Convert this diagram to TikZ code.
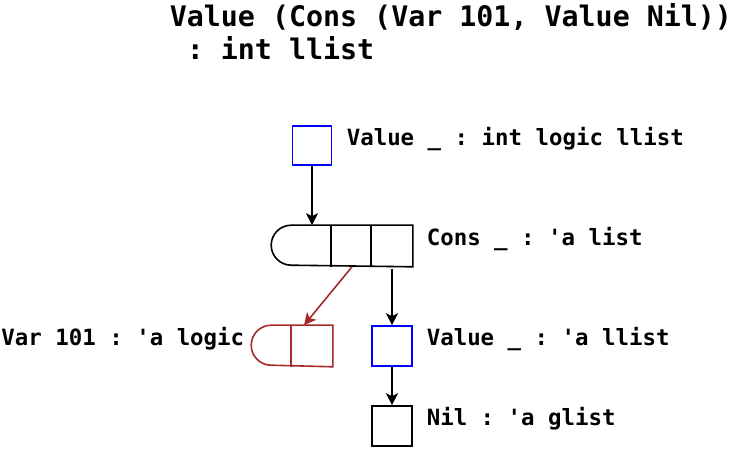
\documentclass[tikz,border=0pt]{standalone}
\usepackage{fontspec}
\setmonofont{DejaVu Sans Mono}
\usetikzlibrary{arrows.meta}
\definecolor{varred}{HTML}{A52A2A}
\begin{document}
\begin{tikzpicture}[x=1pt,y=-1pt,
  line width=1.6pt,
  cell/.style={rectangle,inner sep=0pt,minimum size=40pt,draw=none},
  box/.style={cell,draw},
  lbl/.style={inner sep=0pt,font=\ttfamily\bfseries\fontsize{22.4}{27}\selectfont},
  link/.style={-{Stealth[length=12pt,width=12pt,inset=3pt]}},
]
\useasboundingbox (0,0) rectangle (748,449);

% title (anchored on the baseline of its last line)
\node[inner sep=0pt,anchor=base west,align=left,
      font=\ttfamily\bfseries\fontsize{28.3}{33.5}\selectfont] (title) at (169,60)
  {Value (Cons (Var 101, Value Nil))\\\phantom{:}: int llist};

% top-level value cell
\node[box,draw=blue,minimum size=39pt] (top) at (312,145.5) {};
\node[lbl,anchor=base west] (toplbl) at (346,146) {Value \_ : int logic llist};

% cons block: three cells, rounded head on the left
\node[cell] (c1) at (312,246) {};
\node[cell] (c2) at (352,246) {};
\node[cell] (c3) at (392,246) {};
\draw (c3.north east) -- (c1.north west) arc (270:90:20) -- (c3.south east) -- cycle;
\draw (c2.north west) -- (c2.south west);
\draw (c3.north west) -- (c3.south west);
\node[lbl,anchor=base west] (conslbl) at (426,246) {Cons \_ : 'a list};

% logic variable block
\node[cell] (v2) at (312,346) {};
\draw[varred] (v2.north east) -- ([xshift=-20pt]v2.north west) arc (270:90:20)
  -- (v2.south east) -- cycle;
\draw[varred] (v2.north west) -- (v2.south west);
\node[lbl,anchor=base east] (varlbl) at (245,346) {Var 101 : 'a logic};

% tail value cell and nil
\node[box,draw=blue] (val) at (392,346) {};
\node[lbl,anchor=base west] (vallbl) at (426,346) {Value \_ : 'a llist};
\node[box] (nil) at (392,426) {};
\node[lbl,anchor=base west] (nillbl) at (426,426) {Nil : 'a glist};

% pointers
\draw[link] (top.south) -- (c1.north);
\draw[link,varred] (c2.south) -- ([xshift=-8pt]v2.north);
\draw[link] ([yshift=-2pt]c3.south) -- (val.north);
\draw[link] (val.south) -- (nil.north);
\end{tikzpicture}
\end{document}
